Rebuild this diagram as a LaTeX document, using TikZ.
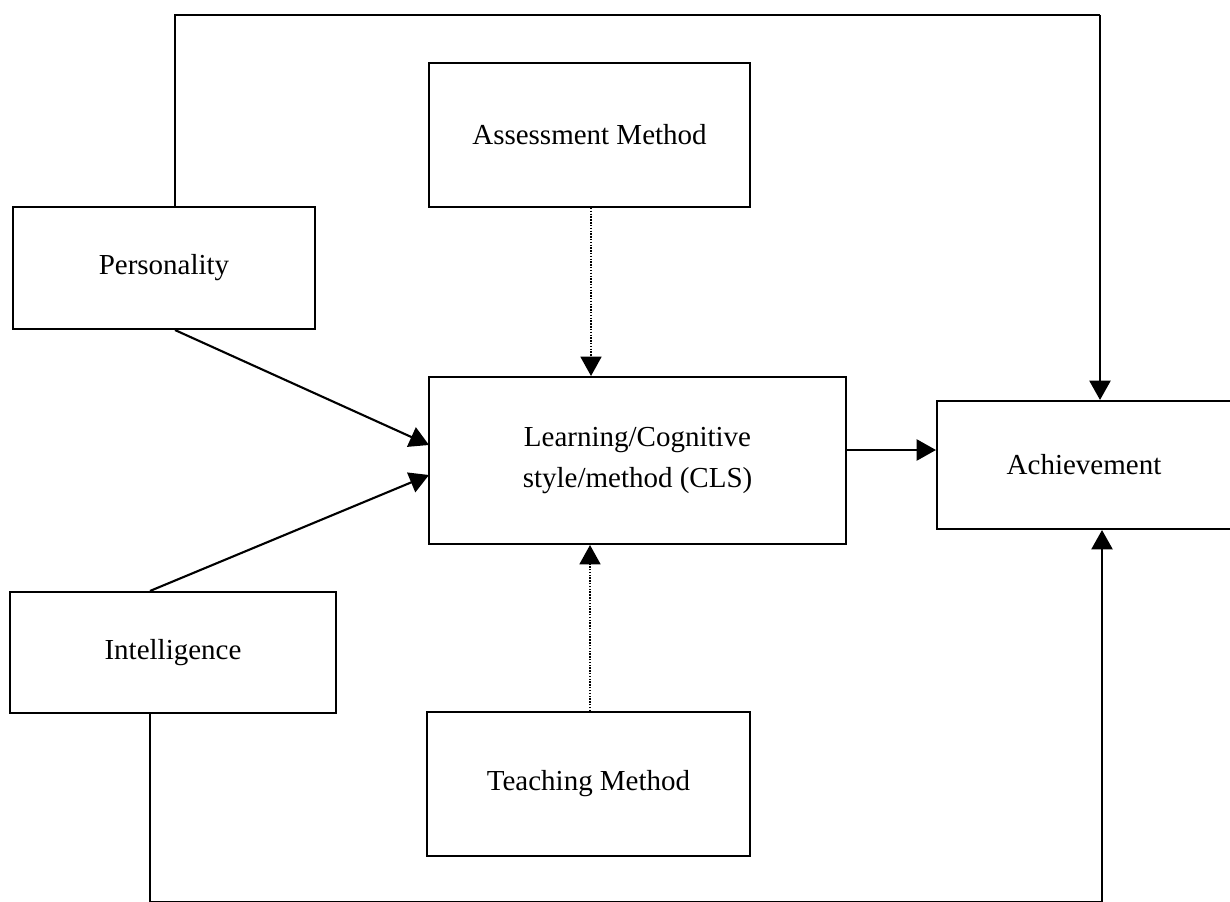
\documentclass[tikz,border=0pt]{standalone}
\usepackage{fontspec}
\setmainfont{Liberation Serif}
\usetikzlibrary{positioning,calc}
\usetikzlibrary{arrows.meta}
\tikzstyle{fattore} = [rectangle, draw=black, line width=1.2pt, text centered, align=center,
font=\fontsize{16.5}{23}\selectfont]
\tikzstyle{arrow} = [line width=1.2pt,-{Triangle[length=11pt,width=12pt]}]
\tikzstyle{arrowdot} = [line width=0.8pt,dash pattern=on 0.8pt off 0.8pt,-{Triangle[length=11pt,width=12pt]}]

\begin{document}
\begin{tikzpicture}[x=0.02cm,y=-0.02cm]
\useasboundingbox (0,0) rectangle (1230,902);
\node (pers) at (164,268) [fattore, minimum width=6.04cm, minimum height=2.44cm] {Personality};
\node (asse) at (589.5,135) [fattore, minimum width=6.42cm, minimum height=2.88cm] {Assessment Method};
\node (cls) at (637.5,460.5) [fattore, minimum width=8.34cm, minimum height=3.34cm] {Learning/Cognitive\\style/method (CLS)};
\node (achv) at (1084,465) [fattore, minimum width=5.88cm, minimum height=2.56cm] {Achievement};
\node (intel) at (173,652.5) [fattore, minimum width=6.52cm, minimum height=2.42cm] {Intelligence};
\node (teach) at (588.5,784) [fattore, minimum width=6.46cm, minimum height=2.88cm] {Teaching Method};
\coordinate (tl) at (175,15);
\coordinate (tr) at (1100,15);
\coordinate (bl) at (150,902);
\coordinate (br) at (1102,902);
\coordinate (p1) at (429,445);
\coordinate (i1) at (429,475);
\draw[line width=1.2pt] (pers.north -| tl) -- (tl) -- (tr);
\draw[arrow] (tr) -- (achv.north -| tr);
\draw[line width=1.2pt] (intel.south -| bl) -- (bl) -- (br);
\draw[arrow] (br) -- (achv.south -| br);
\draw[arrow] (pers.south -| tl) -- (p1);
\draw[arrow] (intel.north -| bl) -- (i1);
\draw[arrowdot] (asse.south -| 591,0) -- (cls.north -| 591,0);
\draw[arrowdot] (teach.north -| 590,0) -- (cls.south -| 590,0);
\draw[arrow] (cls.east |- 0,450) -- (achv.west |- 0,450);
\end{tikzpicture}
\end{document}
